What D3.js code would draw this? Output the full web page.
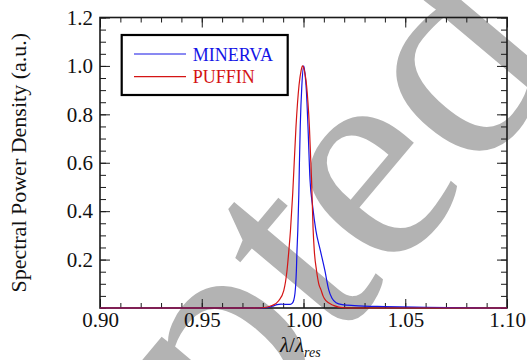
<!DOCTYPE html>
<html>
<head>
<meta charset="utf-8">
<script src="https://cdn.jsdelivr.net/npm/d3@7"></script>
</head>
<body style="margin:0">
<svg id="chart" width="527" height="360" font-family="Liberation Serif"></svg>
<script>
// spectra: [lambda/lambda_res, normalised power]
const minerva = [
  [0.900, 0], [0.980, 0], [0.9825, 0.002], [0.985, 0.008], [0.987, 0.014],
  [0.989, 0.016], [0.991, 0.015], [0.9935, 0.015], [0.9945, 0.02], [0.9952, 0.032],
  [0.9958, 0.06], [0.9962, 0.1], [0.9965, 0.155], [0.9968, 0.237], [0.9972, 0.32],
  [0.9977, 0.47], [0.9980, 0.6], [0.9984, 0.75], [0.9992, 0.92], [1.0001, 1.0],
  [1.0007, 0.97], [1.0014, 0.9], [1.0022, 0.75], [1.0032, 0.53], [1.0045, 0.42],
  [1.0061, 0.32], [1.0083, 0.237], [1.0105, 0.155], [1.0124, 0.075], [1.0140, 0.04],
  [1.0160, 0.022], [1.0190, 0.014], [1.025, 0.010], [1.04, 0.006], [1.06, 0.003],
  [1.08, 0.001], [1.09, 0], [1.10, 0]
];
const puffin = [
  [0.900, 0], [0.975, 0], [0.980, 0.001], [0.9845, 0.01], [0.9878, 0.03],
  [0.9903, 0.072], [0.9919, 0.155], [0.9928, 0.237], [0.9936, 0.32], [0.9947, 0.473],
  [0.9963, 0.748], [0.9978, 0.92], [0.9988, 0.98], [0.9995, 1.0], [1.0003, 0.985],
  [1.0015, 0.92], [1.0029, 0.748], [1.0040, 0.52], [1.0047, 0.33], [1.0053, 0.237],
  [1.0064, 0.155], [1.0075, 0.10], [1.0086, 0.075], [1.0097, 0.048], [1.0110, 0.03],
  [1.0150, 0.01], [1.0198, 0.001], [1.025, 0], [1.100, 0]
];

const seriesNames = ["MINERVA", "PUFFIN"];
const seriesColors = ["#1414e6", "#d41414"];

const xMajor = [0.90, 0.95, 1.00, 1.05, 1.10];
const yMajor = [0.2, 0.4, 0.6, 0.8, 1.0, 1.2];

const W = 527, H = 360;
const margin = {left: 100, top: 17.5, right: 20, bottom: 52};
const FONT = "Liberation Serif";

const svg = d3.select("#chart");

function serifText(sel) {
    return sel.attr("font-family", FONT).style("font-family", FONT);
}

// watermark sits behind the plot
svg.append("text")
    .attr("transform", "translate(-158,932) rotate(-50)")
    .attr("font-size", 300)
    .attr("fill", "#b3b3b3")
    .call(serifText)
    .text("Accepted");

const x = d3.scaleLinear().domain([0.9, 1.1]).range([margin.left, W - margin.right]);
const y = d3.scaleLinear().domain([0, 1.2]).range([H - margin.bottom, margin.top]);

const xMinor = d3.range(90, 111).map(d => d / 100);
const yMinor = d3.range(0, 25).map(d => d / 20);

const frameColor = "#1a1a1a";

function styleAxis(g) {
    g.attr("font-family", FONT).attr("font-size", 21);
    g.select(".domain").remove();
    g.selectAll("line").attr("stroke", frameColor).attr("stroke-width", 1);
    g.selectAll("text").attr("fill", "#111").call(serifText);
}

// minor ticks
svg.append("g").attr("transform", `translate(0,${y(0)})`)
    .call(d3.axisBottom(x).tickValues(xMinor).tickSize(-5).tickFormat(""))
    .call(styleAxis);
svg.append("g").attr("transform", `translate(0,${y(1.2)})`)
    .call(d3.axisTop(x).tickValues(xMinor).tickSize(-5).tickFormat(""))
    .call(styleAxis);
svg.append("g").attr("transform", `translate(${x(0.9)},0)`)
    .call(d3.axisLeft(y).tickValues(yMinor).tickSize(-6).tickFormat(""))
    .call(styleAxis);
svg.append("g").attr("transform", `translate(${x(1.1)},0)`)
    .call(d3.axisRight(y).tickValues(yMinor).tickSize(-6).tickFormat(""))
    .call(styleAxis);

// major ticks + labels
svg.append("g").attr("transform", `translate(0,${y(0)})`)
    .call(d3.axisBottom(x).tickValues(xMajor).tickSize(-9).tickPadding(4).tickFormat(d3.format(".2f")))
    .call(styleAxis);
svg.append("g").attr("transform", `translate(0,${y(1.2)})`)
    .call(d3.axisTop(x).tickValues(xMajor).tickSize(-10).tickFormat(""))
    .call(styleAxis);
svg.append("g").attr("transform", `translate(${x(0.9)},0)`)
    .call(d3.axisLeft(y).tickValues(yMajor).tickSize(-10).tickPadding(7).tickFormat(d3.format(".1f")))
    .call(styleAxis);
svg.append("g").attr("transform", `translate(${x(1.1)},0)`)
    .call(d3.axisRight(y).tickValues(yMajor).tickSize(-10).tickFormat(""))
    .call(styleAxis);

// frame
svg.append("rect")
    .attr("x", x(0.9)).attr("y", y(1.2))
    .attr("width", x(1.1) - x(0.9)).attr("height", y(0) - y(1.2))
    .attr("fill", "none").attr("stroke", frameColor).attr("stroke-width", 1.6);

// curves
const line = d3.line()
    .x(d => x(d[0]))
    .y(d => y(d[1]))
    .curve(d3.curveMonotoneX);

[minerva, puffin].forEach((s, i) => {
    svg.append("path")
        .datum(s)
        .attr("d", line)
        .attr("fill", "none")
        .attr("stroke", seriesColors[i])
        .attr("stroke-width", 1.2);
});

// axis titles
svg.append("text")
    .attr("transform", `translate(26,${(y(0) + y(1.2)) / 2}) rotate(-90)`)
    .attr("text-anchor", "middle")
    .attr("font-size", 22)
    .attr("fill", "#111")
    .call(serifText)
    .text("Spectral Power Density (a.u.)");

const xt = svg.append("text")
    .attr("x", 280).attr("y", 352)
    .attr("font-size", 21)
    .attr("fill", "#111")
    .call(serifText);
xt.append("tspan").attr("font-style", "italic").text("λ");
xt.append("tspan").text("/");
xt.append("tspan").attr("font-style", "italic").text("λ");
xt.append("tspan").attr("font-style", "italic").attr("font-size", 14).attr("dy", 5).text("res");

// legend
const lg = svg.append("g");
lg.append("rect")
    .attr("x", 121.7).attr("y", 35).attr("width", 166).attr("height", 60)
    .attr("fill", "#fff").attr("stroke", "#000").attr("stroke-width", 2.2);
seriesNames.forEach((name, i) => {
    const ly = 54 + i * 22.7;
    lg.append("line")
        .attr("x1", 134).attr("x2", 186).attr("y1", ly).attr("y2", ly)
        .attr("stroke", seriesColors[i]).attr("stroke-width", 1.2);
    lg.append("text")
        .attr("x", 192.7).attr("y", ly + 6.5)
        .attr("font-size", 18)
        .attr("fill", seriesColors[i])
        .call(serifText)
        .text(name);
});
</script>
</body>
</html>
